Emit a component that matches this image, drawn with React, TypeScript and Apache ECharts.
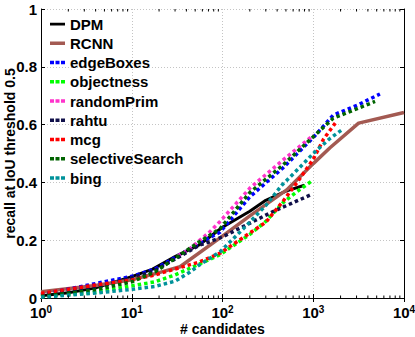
import React, { useEffect, useRef } from "react";
import * as echarts from "echarts";

// [candidates, recall]
const dpm = [[1,0.008],[2,0.018],[4,0.035],[10,0.074],[17,0.1],[30,0.143],[56,0.185],[100,0.245],[200,0.3],[300,0.338],[500,0.37],[800,0.39]];
const rcnn = [[1,0.022],[4,0.043],[10,0.063],[20,0.088],[34,0.108],[94,0.208],[200,0.284],[300,0.323],[510,0.374],[1000,0.465],[1530,0.52],[3160,0.605],[10000,0.642]];
const edgeBoxes = [[1,0.012],[4,0.05],[10,0.075],[18,0.1],[56,0.19],[94,0.228],[200,0.35],[463,0.45],[1000,0.555],[1660,0.633],[3100,0.668],[5430,0.706]];
const objectness = [[1,0.005],[4,0.02],[10,0.042],[18,0.056],[30,0.08],[56,0.118],[94,0.15],[200,0.22],[300,0.265],[465,0.33],[660,0.368],[955,0.404]];
const randomPrim = [[32,0.145],[42,0.166],[54,0.195],[73,0.23],[94,0.265],[200,0.38],[463,0.477],[1000,0.563]];
const rahtu = [[1,0.01],[4,0.035],[10,0.07],[18,0.095],[56,0.183],[73,0.195],[101,0.212],[200,0.259],[360,0.299],[600,0.33],[920,0.356]];
const mcg = [[1,0.016],[4,0.045],[10,0.062],[18,0.08],[56,0.125],[94,0.155],[200,0.225],[300,0.262],[465,0.335],[700,0.41],[1000,0.48],[1300,0.55],[1750,0.605]];
const selectiveSearch = [[1,0.005],[4,0.028],[10,0.056],[18,0.09],[56,0.195],[94,0.24],[200,0.365],[463,0.46],[1000,0.558],[1660,0.622],[3100,0.656],[4800,0.68]];
const bing = [[1,0.003],[4,0.017],[10,0.03],[18,0.04],[30,0.058],[44,0.09],[56,0.115],[94,0.16],[170,0.24],[300,0.32],[450,0.39],[700,0.45],[1000,0.5],[1500,0.55],[2130,0.585]];

const seriesNames = ["DPM","RCNN","edgeBoxes","objectness","randomPrim","rahtu","mcg","selectiveSearch","bing"];
const seriesData = [dpm, rcnn, edgeBoxes, objectness, randomPrim, rahtu, mcg, selectiveSearch, bing];
const seriesColors = ["#000000","#a35a52","#0000ff","#00ff00","#ff33cc","#10104a","#ff0000","#006400","#00929a"];
const seriesSolid = [true, true, false, false, false, false, false, false, false];

const yTicks = [0, 0.2, 0.4, 0.6, 0.8, 1];
const xDecades = [1, 10, 100, 1000, 10000];

const FONT = "'Liberation Sans', Arial, Helvetica, sans-serif";
const SOLID_ICON = "path://M0,0h15v3.5h-15z";
const THIN_SOLID_ICON = "path://M0,0.4h15v2.8h-15zM0,0h0.01v3.5h-0.01z";
const DOT_ICON = "path://M0,0h4v3.5h-4zM5.5,0h4v3.5h-4zM11,0h4v3.5h-4z";

export default function App() {
  const ref = useRef<HTMLDivElement>(null);
  useEffect(() => {
    if (!ref.current) return;
    const chart = echarts.init(ref.current, null, { renderer: "svg" });
    const minorTicks: number[][] = [];
    for (let d = 0; d < xDecades.length - 1; d++) {
      for (let k = 2; k <= 9; k++) minorTicks.push([k * xDecades[d], 0.5]);
    }
    const lineSeries = seriesNames.map((name, i) => ({
      name,
      type: "line",
      data: seriesData[i],
      showSymbol: false,
      symbol: "none",
      smooth: false,
      color: seriesColors[i],
      lineStyle: seriesSolid[i]
        ? { color: seriesColors[i], width: i === 1 ? 3.5 : 3, type: "solid" }
        : { color: seriesColors[i], width: 3.5, type: [3.5, 3], cap: "butt" },
      z: 3 + i,
    }));
    const axisLineStyle = { lineStyle: { color: "#000", width: 1 } };
    const option: any = {
      animation: false,
      textStyle: { fontFamily: FONT },
      grid: { left: 41, right: 11, top: 9, bottom: 39, containLabel: false, outerBoundsMode: "none" },
      legend: {
        data: seriesNames.map((name, i) => ({
          name,
          icon: seriesSolid[i] ? (i === 0 ? THIN_SOLID_ICON : SOLID_ICON) : DOT_ICON,
          itemStyle: { color: seriesColors[i] },
        })),
        orient: "vertical",
        left: 50,
        top: 16.5,
        padding: 0,
        itemWidth: 15,
        itemHeight: 3.5,
        itemGap: 4.25,
        textStyle: { fontFamily: FONT, fontSize: 15, fontWeight: "bold", color: "#000", lineHeight: 15 },
      },
      xAxis: [
        {
          type: "log",
          logBase: 10,
          min: 1,
          max: 10000,
          position: "bottom",
          name: "# candidates",
          nameLocation: "middle",
          nameGap: 24,
          nameMoveOverlap: false,
          nameTextStyle: { fontFamily: FONT, fontSize: 14, fontWeight: "bold", color: "#000", lineHeight: 14 },
          axisLine: axisLineStyle,
          axisTick: { inside: true, length: 4, lineStyle: { color: "#000" } },
          splitLine: { show: true, lineStyle: { color: "#c4c4c4", type: [1, 2], width: 1 } },
          axisLabel: {
            margin: 6,
            color: "#000",
            formatter: (v: number) => "{b|10}{s|" + Math.round(Math.log10(v)) + "}",
            rich: {
              b: { fontFamily: FONT, fontSize: 15, fontWeight: "bold", color: "#000", lineHeight: 16 },
              s: { fontFamily: FONT, fontSize: 10, fontWeight: "bold", color: "#000", verticalAlign: "top", lineHeight: 10, padding: [0, 0, 6, 0] },
            },
          },
        },
        {
          type: "log",
          logBase: 10,
          min: 1,
          max: 10000,
          position: "top",
          axisLine: axisLineStyle,
          axisTick: { inside: true, length: 4, lineStyle: { color: "#000" } },
          axisLabel: { show: false },
          splitLine: { show: false },
        },
      ],
      yAxis: [
        {
          type: "value",
          min: 0,
          max: 1,
          interval: 0.2,
          position: "left",
          name: "recall at IoU threshold 0.5",
          nameLocation: "middle",
          nameGap: 24,
          nameMoveOverlap: false,
          nameTextStyle: { fontFamily: FONT, fontSize: 14, fontWeight: "bold", color: "#000" },
          axisLine: { show: true, ...axisLineStyle },
          axisTick: { show: true, inside: true, length: 4, lineStyle: { color: "#000" } },
          splitLine: { show: true, lineStyle: { color: "#c4c4c4", type: [1, 2], width: 1 } },
          axisLabel: {
            margin: 4,
            fontFamily: FONT,
            fontSize: 15,
            fontWeight: "bold",
            color: "#000",
            customValues: yTicks,
          },
        },
        {
          type: "value",
          min: 0,
          max: 1,
          interval: 0.2,
          position: "right",
          axisLine: { show: true, ...axisLineStyle },
          axisTick: { show: true, inside: true, length: 4, lineStyle: { color: "#000" } },
          axisLabel: { show: false },
          splitLine: { show: false },
        },
      ],
      series: [
        ...lineSeries,
        {
          type: "custom",
          name: "minorTicks",
          silent: true,
          data: minorTicks,
          z: 20,
          renderItem: (params: any, api: any) => {
            const pt = api.coord([api.value(0), 0.5]);
            const cs = params.coordSys;
            const bottom = cs.y + cs.height;
            return {
              type: "group",
              children: [
                { type: "line", shape: { x1: pt[0], y1: bottom, x2: pt[0], y2: bottom - 2.5 }, style: { stroke: "#000", lineWidth: 1 } },
                { type: "line", shape: { x1: pt[0], y1: cs.y, x2: pt[0], y2: cs.y + 2.5 }, style: { stroke: "#000", lineWidth: 1 } },
              ],
            };
          },
        },
      ],
    };
    chart.setOption(option);
    return () => chart.dispose();
  }, []);
  return <div ref={ref} style={{ position: "fixed", left: 0, top: 0, width: 415, height: 337, background: "#fff" }} />;
}
